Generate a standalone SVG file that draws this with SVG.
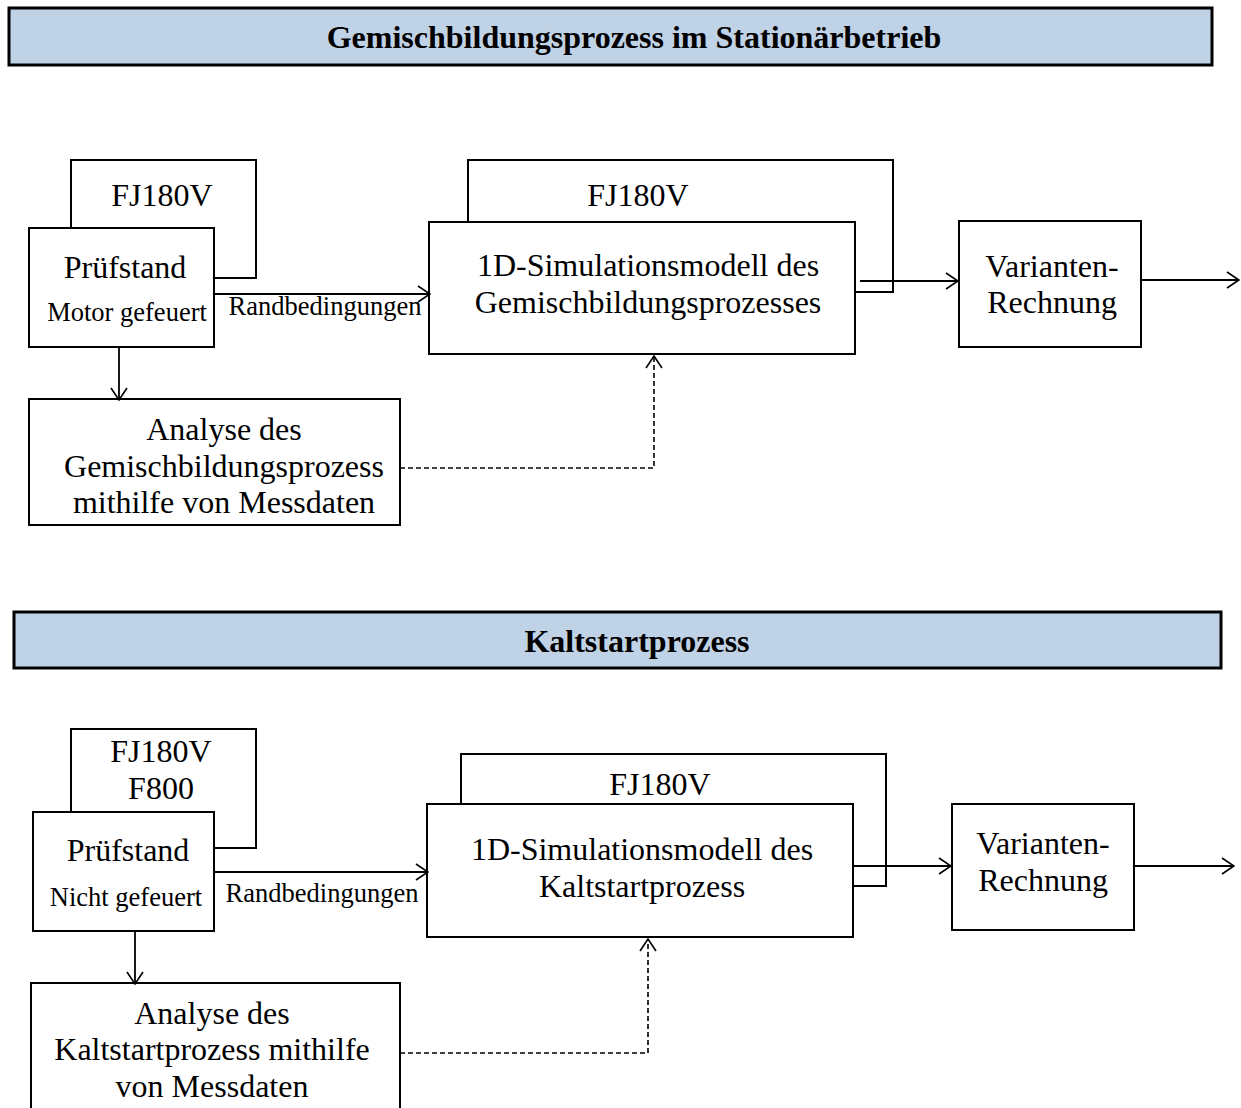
<svg xmlns="http://www.w3.org/2000/svg" width="1241" height="1108" viewBox="0 0 1241 1108">
<style>
.hdr{fill:#c0d2e6;stroke:#000;stroke-width:3}
.box{fill:#fff;stroke:#000;stroke-width:2}
.back{fill:none;stroke:#000;stroke-width:2}
.ln{fill:none;stroke:#000;stroke-width:1.8}
.dash{fill:none;stroke:#000;stroke-width:1.6;stroke-dasharray:5,3}
text{font-family:"Liberation Serif","Times New Roman",serif;fill:#000;text-anchor:middle}
.t{font-size:32px}
.s{font-size:26.5px}
.h{font-size:32px;font-weight:bold}
</style>
<defs>
<marker id="arr" viewBox="0 0 14 18" refX="13" refY="9" markerWidth="14" markerHeight="18" orient="auto" markerUnits="userSpaceOnUse">
<path d="M1,1 L13,9 L1,17" fill="none" stroke="#000" stroke-width="1.6"/>
</marker>
</defs>
<rect width="1241" height="1108" fill="#fff"/>

<g id="header1">
<rect class="hdr" x="9" y="8" width="1203" height="57"/>
<text class="h" x="634" y="48">Gemischbildungsprozess im Stationärbetrieb</text>
</g>
<g id="header2">
<rect class="hdr" x="14" y="612" width="1207" height="56"/>
<text class="h" x="637" y="652">Kaltstartprozess</text>
</g>

<!-- Section 1 -->
<g id="pruef1">
<path class="back" d="M71,228 V160 H256 V278 H214"/>
<text class="t" x="162" y="206">FJ180V</text>
<rect class="box" x="29" y="228" width="185" height="119"/>
<text class="t" x="125" y="278">Prüfstand</text>
<text class="s" x="127" y="321">Motor gefeuert</text>
</g>
<g id="sim1">
<path class="back" d="M468,222 V160 H893 V292 H855"/>
<text class="t" x="638" y="206">FJ180V</text>
<rect class="box" x="429" y="222" width="426" height="132"/>
<text class="t" x="648" y="276">1D-Simulationsmodell des</text>
<text class="t" x="648" y="313">Gemischbildungsprozesses</text>
</g>
<g id="var1">
<rect class="box" x="959" y="221" width="182" height="126"/>
<text class="t" x="1052" y="277">Varianten-</text>
<text class="t" x="1052" y="313">Rechnung</text>
</g>
<g id="ana1">
<rect class="box" x="29" y="399" width="371" height="126"/>
<text class="t" x="224" y="440">Analyse des</text>
<text class="t" x="224" y="477">Gemischbildungsprozess</text>
<text class="t" x="224" y="513">mithilfe von Messdaten</text>
</g>

<!-- Section 2 -->
<g id="pruef2">
<path class="back" d="M71,812 V729 H256 V848 H214"/>
<text class="t" x="161" y="762">FJ180V</text>
<text class="t" x="161" y="799">F800</text>
<rect class="box" x="33" y="812" width="181" height="119"/>
<text class="t" x="128" y="861">Prüfstand</text>
<text class="s" x="126" y="906">Nicht gefeuert</text>
</g>
<g id="sim2">
<path class="back" d="M461,804 V754 H886 V886 H853"/>
<text class="t" x="660" y="795">FJ180V</text>
<rect class="box" x="427" y="804" width="426" height="133"/>
<text class="t" x="642" y="860">1D-Simulationsmodell des</text>
<text class="t" x="642" y="897">Kaltstartprozess</text>
</g>
<g id="var2">
<rect class="box" x="952" y="804" width="182" height="126"/>
<text class="t" x="1043" y="854">Varianten-</text>
<text class="t" x="1043" y="891">Rechnung</text>
</g>
<g id="ana2">
<rect class="box" x="31" y="983" width="369" height="140"/>
<text class="t" x="212" y="1024">Analyse des</text>
<text class="t" x="212" y="1060">Kaltstartprozess mithilfe</text>
<text class="t" x="212" y="1097">von Messdaten</text>
</g>

<g id="connectors">
<line class="ln" x1="214" y1="294" x2="430" y2="294" marker-end="url(#arr)"/>
<text class="s" x="325" y="315">Randbedingungen</text>
<line class="ln" x1="860" y1="281" x2="958" y2="281" marker-end="url(#arr)"/>
<line class="ln" x1="1141" y1="280" x2="1239" y2="280" marker-end="url(#arr)"/>
<line class="ln" x1="119" y1="347" x2="119" y2="400" marker-end="url(#arr)"/>
<path class="dash" d="M400,468 H654 V356" marker-end="url(#arr)"/>

<line class="ln" x1="214" y1="872" x2="428" y2="872" marker-end="url(#arr)"/>
<text class="s" x="322" y="902">Randbedingungen</text>
<line class="ln" x1="853" y1="866" x2="951" y2="866" marker-end="url(#arr)"/>
<line class="ln" x1="1134" y1="866" x2="1234" y2="866" marker-end="url(#arr)"/>
<line class="ln" x1="135" y1="931" x2="135" y2="984" marker-end="url(#arr)"/>
<path class="dash" d="M400,1053 H648 V939" marker-end="url(#arr)"/>
</g>
</svg>
